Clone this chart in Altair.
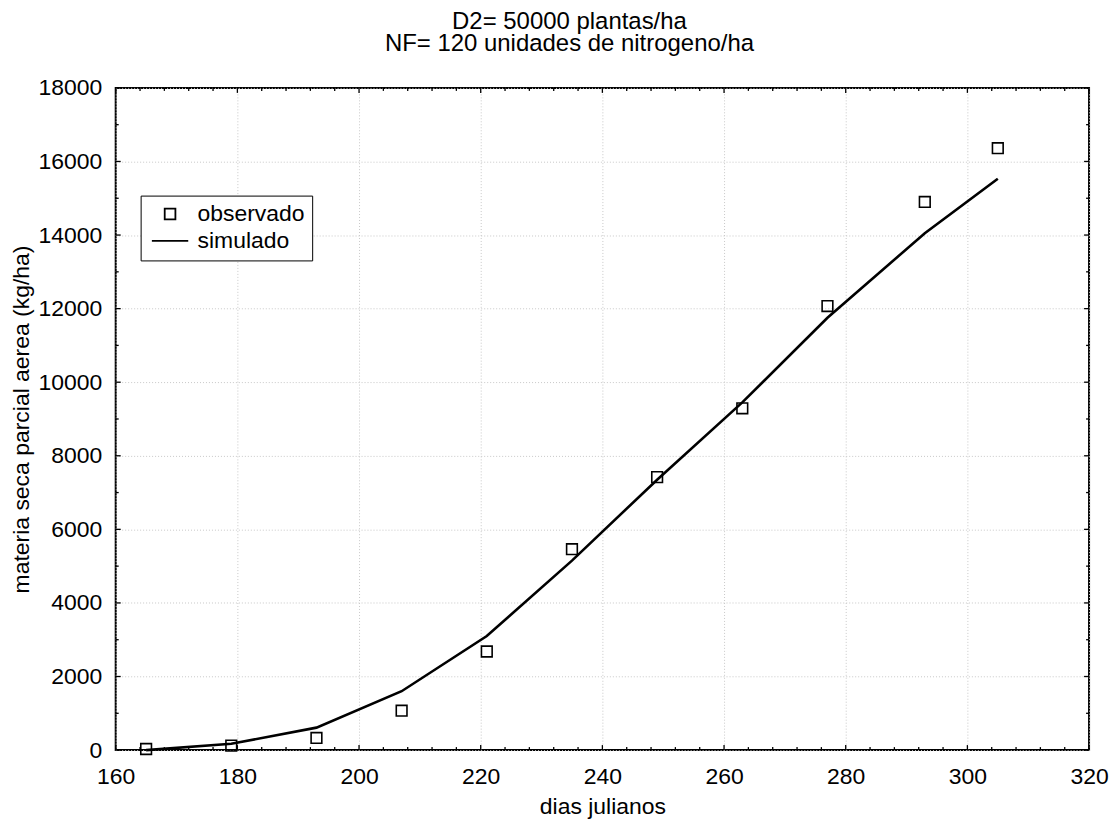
import altair as alt
import pandas as pd

# ---- data ----
dias = [165, 179, 193, 207, 221, 235, 249, 263, 277, 293, 305]
observado = [30, 120, 330, 1070, 2680, 5460, 7420, 9290, 12070, 14900, 16360]
simulado = [0, 170, 610, 1600, 3100, 5150, 7350, 9450, 11750, 14050, 15530]

x_major = [160, 180, 200, 220, 240, 260, 280, 300, 320]
x_minor = [164, 168, 172, 176, 184, 188, 192, 196, 204, 208, 212, 216,
           224, 228, 232, 236, 244, 248, 252, 256, 264, 268, 272, 276,
           284, 288, 292, 296, 304, 308, 312, 316]
y_major = [0, 2000, 4000, 6000, 8000, 10000, 12000, 14000, 16000, 18000]
y_minor = [1000, 3000, 5000, 7000, 9000, 11000, 13000, 15000, 17000]

series_names = ["observado", "simulado"]

W, H = 976, 664
FONT = "Liberation Sans"
FS = 23

obs_df = pd.DataFrame({"dia": dias, "ms": observado, "serie": "observado"})
sim_df = pd.DataFrame({"dia": dias, "ms": simulado, "serie": "simulado"})

xscale = alt.Scale(domain=[160, 320], nice=False, zero=False)
yscale = alt.Scale(domain=[0, 18000], nice=False)

x_axis = alt.Axis(values=x_major, format="d", grid=True, gridColor="#c8c8c8",
                  gridDash=[1, 2], gridWidth=1, ticks=False, tickSize=0, domain=False,
                  labelFont=FONT, labelFontSize=FS, labelColor="black", labelPadding=16,
                  title="dias julianos", titleFont=FONT, titleFontSize=FS,
                  titleFontWeight="normal", titleColor="black", titlePadding=7,
                  labelFlush=False)
y_axis = alt.Axis(values=y_major, format="d", grid=True, gridColor="#c8c8c8",
                  gridDash=[1, 2], gridWidth=1, ticks=False, tickSize=0, domain=False,
                  labelFont=FONT, labelFontSize=FS, labelColor="black", labelPadding=14,
                  title="materia seca parcial aerea (kg/ha)", titleFont=FONT,
                  titleFontSize=FS, titleFontWeight="normal", titleColor="black",
                  titlePadding=4, labelFlush=False)

line = alt.Chart(sim_df).mark_line(color="black", strokeWidth=2.6).encode(
    x=alt.X("dia:Q", scale=xscale, axis=x_axis),
    y=alt.Y("ms:Q", scale=yscale, axis=y_axis),
)

legend = alt.Legend(title=None, orient="none", legendX=25, legendY=108,
                    strokeColor="black", fillColor="white", padding=7,
                    labelFont=FONT, labelFontSize=FS, labelColor="black",
                    symbolOffset=11, labelOffset=16, rowPadding=3,
                    symbolSize=115, symbolStrokeColor="black",
                    symbolStrokeWidth=1.8, symbolFillColor="transparent")

points = alt.Chart(obs_df).mark_point(filled=False, color="black", strokeWidth=1.6,
                                      opacity=1, size=115).encode(
    x=alt.X("dia:Q", scale=xscale, axis=x_axis),
    y=alt.Y("ms:Q", scale=yscale, axis=y_axis),
    shape=alt.Shape("serie:N", scale=alt.Scale(domain=series_names,
                                               range=["square", "M-3.4,0H3.4"]),
                    legend=legend),
)

def xticks(vals, length, top):
    df = pd.DataFrame({"dia": vals})
    y0 = 0 if top else H
    y1 = length if top else H - length
    return alt.Chart(df).mark_rule(color="black", strokeWidth=1.3).encode(
        x=alt.X("dia:Q", scale=xscale, axis=x_axis),
        y=alt.value(y0), y2=alt.value(y1))

def yticks(vals, length, right):
    df = pd.DataFrame({"ms": vals})
    x0 = W if right else 0
    x1 = W - length if right else length
    return alt.Chart(df).mark_rule(color="black", strokeWidth=1.3).encode(
        y=alt.Y("ms:Q", scale=yscale, axis=y_axis),
        x=alt.value(x0), x2=alt.value(x1))

layers = [line, points,
          xticks(x_major, 5, False), xticks(x_minor, 3, False),
          xticks(x_major, 5, True), xticks(x_minor, 3, True),
          yticks(y_major, 5, False), yticks(y_minor, 3, False),
          yticks(y_major, 5, True), yticks(y_minor, 3, True)]

chart = alt.layer(*layers).properties(
    width=W, height=H,
    autosize=alt.AutoSizeParams(type="none"),
    padding={"left": 108, "top": 79, "right": 20, "bottom": 70},
    title=alt.TitleParams(["D2= 50000 plantas/ha", "NF= 120 unidades de nitrogeno/ha"],
                          font=FONT, fontSize=24, fontWeight="normal", color="black",
                          anchor="middle", dx=-33, offset=21, lineHeight=22),
).configure(background="white").configure_view(stroke="black", strokeWidth=2)

chart.save("out.html", embed_options={"renderer": "svg", "actions": False})
